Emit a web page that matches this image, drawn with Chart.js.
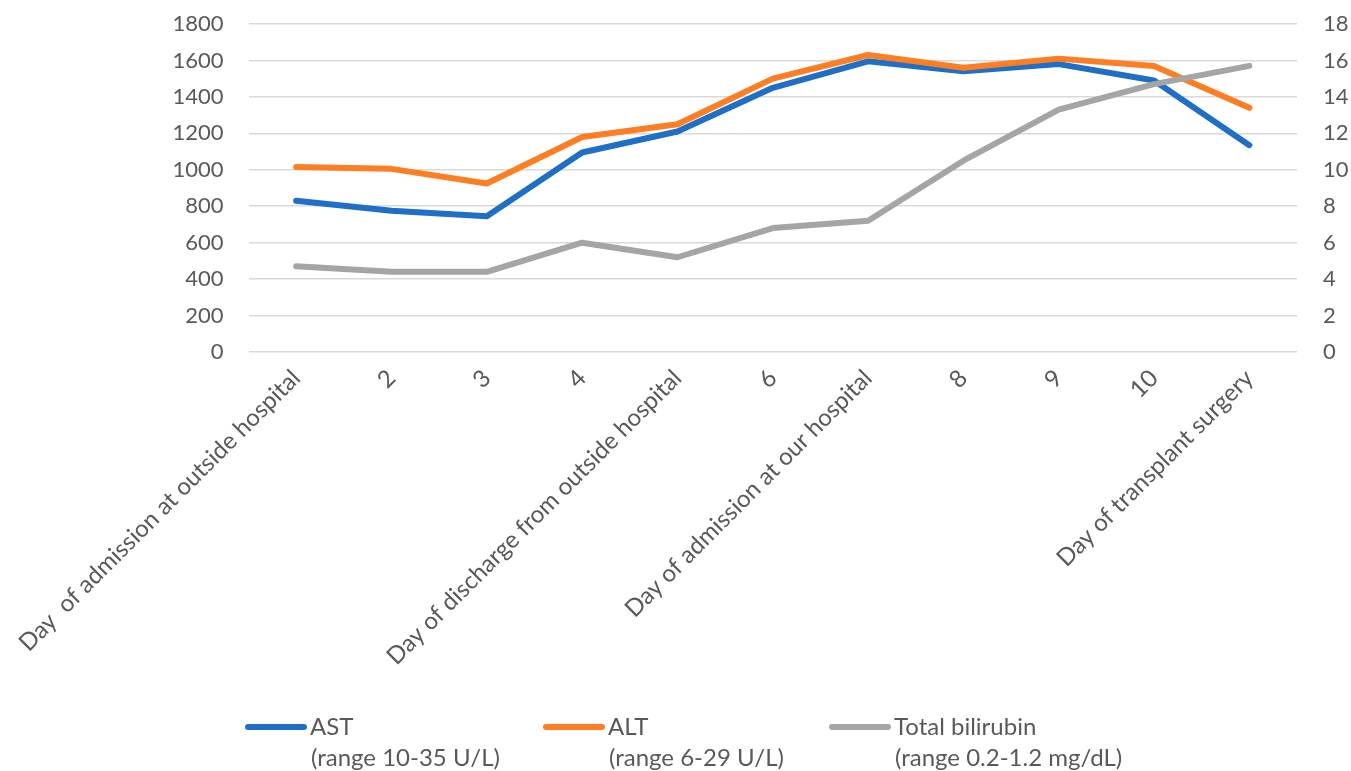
<!DOCTYPE html>
<html>
<head>
<meta charset="utf-8">
<script src="https://cdn.jsdelivr.net/npm/chart.js@4/dist/chart.umd.min.js"></script>
<style>
  html, body { margin: 0; padding: 0; background: #ffffff; }
  #wrap { width: 1351px; height: 771px; }
</style>
</head>
<body>
<div id="wrap"><canvas id="c" width="1351" height="771"></canvas></div>
<script>
// Timeline of liver tests
const categories = [
  'Day  of admission at outside hospital', '2', '3', '4',
  'Day of discharge from outside hospital', '6',
  'Day of admission at our hospital', '8', '9', '10',
  'Day of transplant surgery'
];
const astValues = [830, 775, 745, 1095, 1210, 1450, 1595, 1540, 1580, 1490, 1135];
const altValues = [1015, 1005, 925, 1180, 1250, 1500, 1630, 1560, 1610, 1570, 1340];
const bilirubinValues = [4.7, 4.4, 4.4, 6.0, 5.2, 6.8, 7.2, 10.5, 13.3, 14.7, 15.7];

const leftAxisTicks = { min: 0, max: 1800, step: 200 };
const rightAxisTicks = { min: 0, max: 18, step: 2 };

const seriesNames = ['AST', 'ALT', 'Total bilirubin'];
const seriesRanges = ['(range 10-35 U/L)', '(range 6-29 U/L)', '(range 0.2-1.2 mg/dL)'];
const seriesColors = ['#1F6FC6', '#FD7E23', '#A5A5A5'];

const FONT = 'Lato, "Open Sans", sans-serif';
const TEXT = '#595959';

// Two-line legend drawn under the axis labels
const legendPlugin = {
  id: 'twoLineLegend',
  afterDraw(chart) {
    const ctx = chart.ctx;
    const starts = [248, 546, 832];
    const y1 = 727, y2 = 758;
    ctx.save();
    ctx.font = '24px ' + FONT;
    ctx.fillStyle = TEXT;
    ctx.textBaseline = 'middle';
    ctx.textAlign = 'left';
    chart.data.datasets.forEach((ds, i) => {
      const x = starts[i];
      ctx.strokeStyle = ds.borderColor;
      ctx.lineWidth = 6;
      ctx.lineCap = 'round';
      ctx.beginPath();
      ctx.moveTo(x, y1);
      ctx.lineTo(x + 56, y1);
      ctx.stroke();
      ctx.fillText(seriesNames[i], x + 62, y1);
      ctx.fillText(seriesRanges[i], x + 63, y2);
    });
    ctx.restore();
  }
};

const lineStyle = {
  borderWidth: 6,
  pointRadius: 0,
  pointHoverRadius: 0,
  tension: 0,
  borderCapStyle: 'round',
  borderJoinStyle: 'round',
  fill: false
};

const plainNumber = (v) => String(v);

new Chart(document.getElementById('c'), {
  type: 'line',
  data: {
    labels: categories,
    datasets: [
      Object.assign({ label: seriesNames[0], data: astValues, borderColor: seriesColors[0], backgroundColor: seriesColors[0], yAxisID: 'y', order: 2 }, lineStyle),
      Object.assign({ label: seriesNames[1], data: altValues, borderColor: seriesColors[1], backgroundColor: seriesColors[1], yAxisID: 'y', order: 1 }, lineStyle),
      Object.assign({ label: seriesNames[2], data: bilirubinValues, borderColor: seriesColors[2], backgroundColor: seriesColors[2], yAxisID: 'y2', order: 0 }, lineStyle)
    ]
  },
  options: {
    responsive: false,
    animation: false,
    devicePixelRatio: 1,
    layout: { padding: { top: 24, left: 0, right: 0, bottom: 0 } },
    plugins: {
      legend: { display: false },
      tooltip: { enabled: false }
    },
    scales: {
      x: {
        offset: true,
        grid: { display: false, drawTicks: false },
        border: { display: false },
        ticks: {
          autoSkip: false,
          minRotation: 45,
          maxRotation: 45,
          padding: 12,
          color: TEXT,
          font: { family: FONT, size: 24 }
        },
        afterFit(scale) { scale.height = 419; }
      },
      y: {
        position: 'left',
        min: leftAxisTicks.min,
        max: leftAxisTicks.max,
        // invisible tick marks keep the gap between labels and plot
        grid: { color: '#D9D9D9', lineWidth: 1.5, drawTicks: true, tickLength: 25, tickColor: 'rgba(0,0,0,0)' },
        border: { display: false },
        ticks: {
          stepSize: leftAxisTicks.step,
          padding: 0,
          color: TEXT,
          font: { family: FONT, size: 22 },
          callback: plainNumber
        },
        afterFit(scale) { scale.width = 247; }
      },
      y2: {
        position: 'right',
        min: rightAxisTicks.min,
        max: rightAxisTicks.max,
        grid: { drawOnChartArea: false, drawTicks: true, tickLength: 26, tickColor: 'rgba(0,0,0,0)' },
        border: { display: false },
        ticks: {
          stepSize: rightAxisTicks.step,
          padding: 0,
          color: TEXT,
          font: { family: FONT, size: 22 },
          callback: plainNumber
        },
        afterFit(scale) { scale.width = 54; }
      }
    }
  },
  plugins: [legendPlugin]
});
</script>
</body>
</html>
